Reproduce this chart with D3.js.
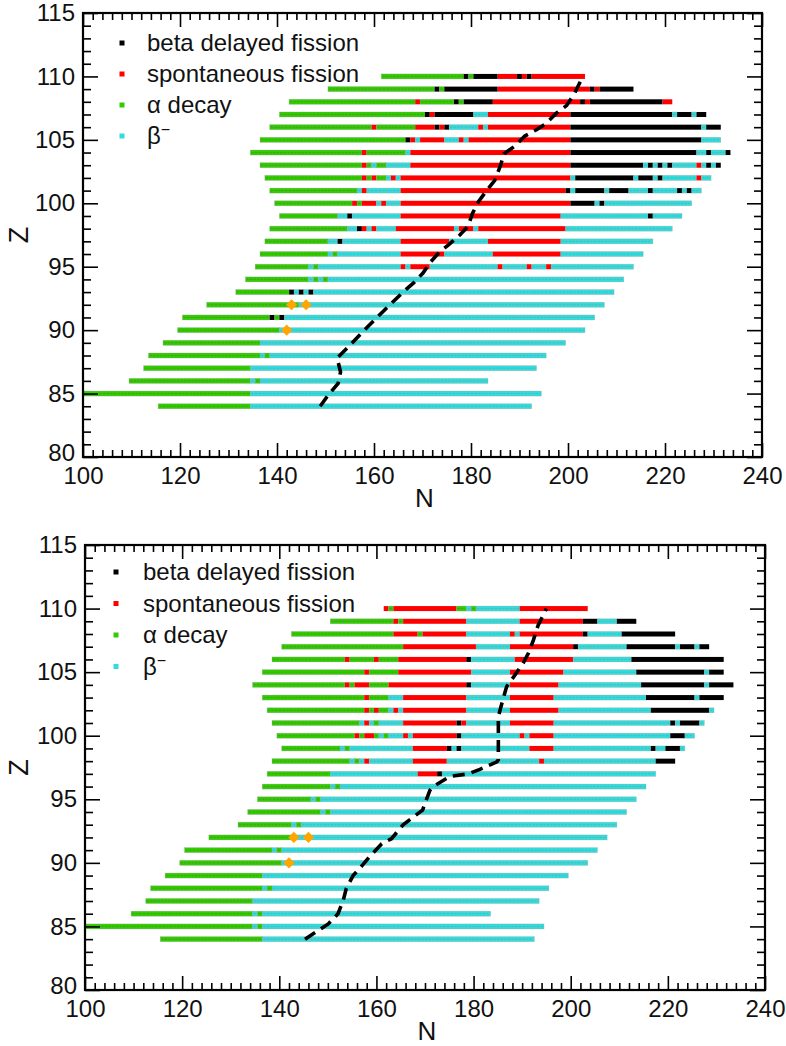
<!DOCTYPE html>
<html>
<head>
<meta charset="utf-8">
<script src="https://cdn.jsdelivr.net/npm/d3@7"></script>
<style>
  html, body { margin: 0; padding: 0; background: #fff; }
  svg { display: block; font-family: "Liberation Sans", Arial, Helvetica, sans-serif; }
</style>
</head>
<body>
<svg id="chart" width="786" height="1046"></svg>
<script>
// ---- decay modes ----------------------------------------------------------
const MODE_KEYS = ["bdf", "sf", "a", "b"];
const MODE_LABELS = ["beta delayed fission", "spontaneous fission", "α decay", "β"];
const MODE_COLORS = { bdf: "#000000", sf: "#ff0000", a: "#33cc00", b: "#33dcdc" };

// ---- axis ticks -----------------------------------------------------------
const N_TICK_LABELS = [100, 120, 140, 160, 180, 200, 220, 240];
const Z_TICK_LABELS = [80, 85, 90, 95, 100, 105, 110, 115];

// ---- upper panel: decay mode runs per element, [N first, N last, mode] -----
const TOP_ROWS = [
  [84, [[116,134,"a"],[135,192,"b"]]],
  [85, [[97,134,"a"],[135,194,"b"]]],
  [86, [[110,134,"a"],[135,135,"b"],[136,136,"a"],[137,183,"b"]]],
  [87, [[113,134,"a"],[135,193,"b"]]],
  [88, [[114,136,"a"],[137,137,"b"],[138,138,"a"],[139,195,"b"]]],
  [89, [[117,136,"a"],[137,199,"b"]]],
  [90, [[120,140,"a"],[141,203,"b"]]],
  [91, [[121,138,"a"],[139,139,"bdf"],[140,140,"a"],[141,141,"bdf"],[142,205,"b"]]],
  [92, [[126,144,"a"],[145,207,"b"]]],
  [93, [[132,142,"a"],[143,143,"bdf"],[144,144,"b"],[145,145,"bdf"],[146,146,"b"],[147,147,"bdf"],[148,209,"b"]]],
  [94, [[134,146,"a"],[147,147,"b"],[148,148,"a"],[149,149,"b"],[150,150,"a"],[151,211,"b"]]],
  [95, [[136,146,"a"],[147,147,"b"],[148,148,"a"],[149,165,"b"],[166,166,"sf"],[167,167,"b"],[168,171,"sf"],[172,185,"b"],[186,186,"sf"],[187,191,"b"],[192,192,"sf"],[193,195,"b"],[196,196,"sf"],[197,213,"b"]]],
  [96, [[137,150,"a"],[151,151,"b"],[152,152,"a"],[153,165,"b"],[166,174,"sf"],[175,184,"b"],[185,198,"sf"],[199,215,"b"]]],
  [97, [[138,150,"a"],[151,152,"b"],[153,153,"bdf"],[154,165,"b"],[166,175,"sf"],[176,183,"b"],[184,198,"sf"],[199,217,"b"]]],
  [98, [[139,154,"a"],[155,156,"b"],[157,157,"bdf"],[158,158,"sf"],[159,159,"b"],[160,160,"sf"],[161,164,"b"],[165,176,"sf"],[177,177,"b"],[178,180,"sf"],[181,181,"b"],[182,199,"sf"],[200,221,"b"]]],
  [99, [[141,152,"a"],[153,154,"b"],[155,155,"bdf"],[156,165,"b"],[166,198,"sf"],[199,216,"b"],[217,217,"bdf"],[218,223,"b"]]],
  [100, [[140,155,"a"],[156,156,"sf"],[157,157,"a"],[158,160,"sf"],[161,161,"b"],[162,162,"sf"],[163,165,"b"],[166,200,"sf"],[201,205,"bdf"],[206,206,"b"],[207,207,"bdf"],[208,225,"b"]]],
  [101, [[139,156,"a"],[157,157,"b"],[158,158,"sf"],[159,165,"b"],[166,199,"sf"],[200,200,"bdf"],[201,201,"b"],[202,207,"bdf"],[208,208,"b"],[209,212,"bdf"],[213,216,"b"],[217,217,"bdf"],[218,222,"b"],[223,223,"bdf"],[224,224,"b"],[225,225,"bdf"],[226,227,"b"]]],
  [102, [[138,157,"a"],[158,158,"sf"],[159,159,"a"],[160,160,"sf"],[161,162,"a"],[163,163,"b"],[164,164,"sf"],[165,165,"b"],[166,200,"sf"],[201,201,"b"],[202,213,"bdf"],[214,214,"b"],[215,217,"bdf"],[218,218,"b"],[219,219,"bdf"],[220,226,"b"],[227,227,"sf"],[228,229,"b"]]],
  [103, [[137,157,"a"],[158,158,"sf"],[159,159,"a"],[160,160,"b"],[161,162,"a"],[163,167,"b"],[168,200,"sf"],[201,215,"bdf"],[216,216,"b"],[217,217,"bdf"],[218,218,"b"],[219,219,"bdf"],[220,220,"b"],[221,221,"bdf"],[222,226,"b"],[227,227,"sf"],[228,228,"b"],[229,229,"bdf"],[230,230,"b"],[231,231,"bdf"]]],
  [104, [[135,157,"a"],[158,158,"sf"],[159,166,"a"],[167,167,"b"],[168,200,"sf"],[201,226,"bdf"],[227,228,"b"],[229,229,"bdf"],[230,232,"b"],[233,233,"bdf"]]],
  [105, [[137,166,"a"],[167,167,"bdf"],[168,168,"sf"],[169,169,"b"],[170,174,"sf"],[175,177,"b"],[178,178,"sf"],[179,179,"b"],[180,200,"sf"],[201,227,"bdf"],[228,231,"b"]]],
  [106, [[139,159,"a"],[160,160,"sf"],[161,168,"a"],[169,172,"sf"],[173,173,"bdf"],[174,174,"sf"],[175,175,"bdf"],[176,181,"b"],[182,182,"sf"],[183,183,"b"],[184,200,"sf"],[201,227,"bdf"],[228,228,"b"],[229,231,"bdf"]]],
  [107, [[141,170,"a"],[171,171,"bdf"],[172,172,"sf"],[173,180,"bdf"],[181,183,"b"],[184,200,"sf"],[201,221,"bdf"],[222,222,"b"],[223,225,"bdf"],[226,226,"b"],[227,228,"bdf"]]],
  [108, [[143,168,"a"],[169,169,"sf"],[170,176,"a"],[177,177,"bdf"],[178,178,"a"],[179,184,"bdf"],[185,202,"sf"],[203,203,"bdf"],[204,204,"sf"],[205,219,"bdf"],[220,221,"sf"]]],
  [109, [[151,172,"a"],[173,173,"bdf"],[174,174,"a"],[175,185,"bdf"],[186,204,"sf"],[205,205,"bdf"],[206,206,"sf"],[207,213,"bdf"]]],
  [110, [[162,178,"a"],[179,179,"bdf"],[180,180,"a"],[181,185,"bdf"],[186,189,"sf"],[190,190,"bdf"],[191,191,"sf"],[192,192,"bdf"],[193,203,"sf"]]]
];

// ---- lower panel ----------------------------------------------------------
const BOTTOM_ROWS = [
  [84, [[116,136,"a"],[137,192,"b"]]],
  [85, [[97,134,"a"],[135,135,"b"],[136,136,"a"],[137,194,"b"]]],
  [86, [[110,134,"a"],[135,135,"b"],[136,136,"a"],[137,183,"b"]]],
  [87, [[113,134,"a"],[135,193,"b"]]],
  [88, [[114,136,"a"],[137,137,"b"],[138,138,"a"],[139,195,"b"]]],
  [89, [[117,136,"a"],[137,199,"b"]]],
  [90, [[120,140,"a"],[141,203,"b"]]],
  [91, [[121,138,"a"],[139,139,"b"],[140,140,"a"],[141,205,"b"]]],
  [92, [[126,143,"a"],[144,207,"b"]]],
  [93, [[132,142,"a"],[143,143,"b"],[144,144,"a"],[145,209,"b"]]],
  [94, [[134,148,"a"],[149,149,"b"],[150,150,"a"],[151,211,"b"]]],
  [95, [[136,146,"a"],[147,147,"b"],[148,148,"a"],[149,213,"b"]]],
  [96, [[137,150,"a"],[151,151,"b"],[152,152,"a"],[153,215,"b"]]],
  [97, [[138,150,"a"],[151,168,"b"],[169,172,"sf"],[173,173,"bdf"],[174,217,"b"]]],
  [98, [[139,154,"a"],[155,155,"b"],[156,156,"a"],[157,157,"b"],[158,158,"sf"],[159,167,"b"],[168,174,"sf"],[175,193,"b"],[194,194,"sf"],[195,217,"b"],[218,221,"bdf"]]],
  [99, [[141,152,"a"],[153,153,"b"],[154,154,"a"],[155,167,"b"],[168,174,"sf"],[175,175,"bdf"],[176,176,"b"],[177,177,"bdf"],[178,191,"b"],[192,196,"sf"],[197,216,"b"],[217,217,"bdf"],[218,219,"b"],[220,222,"bdf"],[223,223,"b"]]],
  [100, [[140,155,"a"],[156,156,"sf"],[157,157,"a"],[158,159,"sf"],[160,160,"a"],[161,161,"b"],[162,162,"a"],[163,165,"b"],[166,166,"sf"],[167,167,"b"],[168,176,"sf"],[177,177,"bdf"],[178,189,"b"],[190,190,"sf"],[191,191,"b"],[192,196,"sf"],[197,220,"b"],[221,223,"bdf"],[224,225,"b"]]],
  [101, [[139,156,"a"],[157,157,"b"],[158,158,"sf"],[159,159,"b"],[160,160,"a"],[161,165,"b"],[166,176,"sf"],[177,177,"bdf"],[178,178,"sf"],[179,187,"b"],[188,196,"sf"],[197,220,"b"],[221,221,"bdf"],[222,222,"b"],[223,226,"bdf"],[227,227,"b"]]],
  [102, [[138,157,"a"],[158,158,"sf"],[159,159,"a"],[160,160,"sf"],[161,162,"a"],[163,163,"b"],[164,164,"sf"],[165,165,"b"],[166,178,"sf"],[179,187,"b"],[188,197,"sf"],[198,216,"b"],[217,228,"bdf"],[229,229,"b"]]],
  [103, [[137,157,"a"],[158,158,"sf"],[159,162,"a"],[163,165,"b"],[166,178,"sf"],[179,187,"b"],[188,196,"sf"],[197,215,"b"],[216,225,"bdf"],[226,226,"b"],[227,231,"bdf"]]],
  [104, [[135,153,"a"],[154,154,"sf"],[155,155,"a"],[156,158,"sf"],[159,162,"a"],[163,178,"sf"],[179,179,"bdf"],[180,187,"b"],[188,197,"sf"],[198,214,"b"],[215,227,"bdf"],[228,228,"b"],[229,233,"bdf"]]],
  [105, [[137,157,"a"],[158,158,"sf"],[159,164,"a"],[165,179,"sf"],[180,187,"b"],[188,198,"sf"],[199,213,"b"],[214,227,"bdf"],[228,228,"b"],[229,231,"bdf"]]],
  [106, [[139,153,"a"],[154,154,"sf"],[155,159,"a"],[160,160,"sf"],[161,164,"a"],[165,178,"sf"],[179,179,"bdf"],[180,188,"b"],[189,200,"sf"],[201,212,"b"],[213,231,"bdf"]]],
  [107, [[141,165,"a"],[166,180,"sf"],[181,187,"b"],[188,200,"sf"],[201,201,"bdf"],[202,211,"b"],[212,221,"bdf"],[222,222,"b"],[223,225,"bdf"],[226,226,"b"],[227,228,"bdf"]]],
  [108, [[143,163,"a"],[164,168,"sf"],[169,169,"a"],[170,178,"sf"],[179,187,"b"],[188,188,"sf"],[189,189,"b"],[190,202,"sf"],[203,203,"bdf"],[204,210,"b"],[211,221,"bdf"]]],
  [109, [[151,163,"a"],[164,164,"sf"],[165,165,"a"],[166,178,"sf"],[179,189,"b"],[190,202,"sf"],[203,205,"bdf"],[206,209,"b"],[210,213,"bdf"]]],
  [110, [[162,162,"sf"],[163,163,"a"],[164,176,"sf"],[177,178,"a"],[179,179,"b"],[180,180,"a"],[181,189,"b"],[190,203,"sf"]]]
];

// ---- dashed line (N, Z) and known nuclei markers ---------------------------
const TOP_LINE = [[148.9,84],[150.6,84.9],[152.6,85.8],[153.1,86.7],[152.6,87.5],[152.4,87.8],[155,88.8],[158.8,90.3],[162.6,91.75],[166,93],[168.1,93.7],[170.1,94.5],[171.5,95.3],[173.6,96.2],[175.3,96.7],[177.7,97.5],[179.4,98.2],[180.3,99.2],[181.5,100.1],[183.2,101],[184.9,101.8],[186.1,103],[186.8,103.9],[189,104.5],[191.1,105.3],[193.5,105.8],[195.5,106.3],[197.6,107.1],[199.7,107.7],[201.4,108.7],[202.8,109.8]];
const BOTTOM_LINE = [[145.3,84],[147.7,84.6],[150.1,85.2],[152.1,86],[153.2,87.1],[153.8,88],[155.2,89],[157.3,89.9],[158.6,90.5],[161.1,91.5],[163.1,91.9],[165.5,93],[169.5,94.15],[171,95.7],[171.7,96],[175.1,96.8],[178.9,97],[181.3,97.35],[184.8,97.95],[185.1,98.1],[185.1,100.4],[185.1,101.5],[186,102.8],[186.8,103.85],[188.2,104.6],[190.2,105.7],[191.3,106.5],[192.3,107.5],[193.3,108.7],[195,110]];
const TOP_DIAMONDS = [[143,92],[146,92],[142,90]];
const BOTTOM_DIAMONDS = [[143,92],[146,92],[142,90]];

// ---- panel boxes -----------------------------------------------------------
const PANELS = [
  { rows: TOP_ROWS, line: TOP_LINE, diamonds: TOP_DIAMONDS, left: 83, right: 762, top: 13, bottom: 457,
    legend: { sx: 122, tx: 147, y0: 43, dy: 31 } },
  { rows: BOTTOM_ROWS, line: BOTTOM_LINE, diamonds: BOTTOM_DIAMONDS, left: 85, right: 765, top: 545, bottom: 990,
    legend: { sx: 116, tx: 143, y0: 572, dy: 31.5 } }
];

const svg = d3.select("#chart");

PANELS.forEach((p, i) => {
  const x = d3.scaleLinear().domain([100, 240]).range([p.left, p.right]);
  const y = d3.scaleLinear().domain([80, 115]).range([p.bottom, p.top]);
  const g = svg.append("g");

  const clipId = "plot-clip-" + i;
  svg.append("clipPath").attr("id", clipId)
    .append("rect").attr("x", p.left).attr("y", p.top)
    .attr("width", p.right - p.left).attr("height", p.bottom - p.top);

  // decay-mode bars, one rect per run of equal mode
  const runs = [];
  p.rows.forEach(([z, segs]) => segs.forEach(([n0, n1, m]) => runs.push({ z, n0, n1, m })));
  const barH = 5;
  const bars = g.append("g").attr("clip-path", `url(#${clipId})`);
  bars.selectAll("rect.run").data(runs).join("rect")
    .attr("class", "run")
    .attr("x", d => x(d.n0 - 0.5))
    .attr("y", d => y(d.z) - barH / 2)
    .attr("width", d => x(d.n1 + 0.5) - x(d.n0 - 0.5))
    .attr("height", barH)
    .attr("fill", d => MODE_COLORS[d.m])
    .attr("stroke", d => (d.m === "a" || d.m === "b") ? "rgba(140,150,150,0.45)" : "none")
    .attr("stroke-width", 0.6);
  // dotted texture along the green and cyan runs
  bars.selectAll("line.tex").data(runs.filter(d => d.m === "a" || d.m === "b")).join("line")
    .attr("class", "tex")
    .attr("x1", d => x(d.n0 - 0.5) + 1).attr("x2", d => x(d.n1 + 0.5) - 1)
    .attr("y1", d => y(d.z)).attr("y2", d => y(d.z))
    .attr("stroke", d => d.m === "a" ? "rgba(70,130,40,0.55)" : "rgba(110,150,150,0.55)")
    .attr("stroke-width", 1)
    .attr("stroke-dasharray", "2.2,1.4");

  // dashed boundary line
  g.append("path")
    .attr("d", d3.line().x(d => x(d[0])).y(d => y(d[1]))(p.line))
    .attr("fill", "none").attr("stroke", "#000").attr("stroke-width", 3.6)
    .attr("stroke-dasharray", "12,7").attr("stroke-linecap", "butt");

  // orange diamonds
  g.selectAll("path.dia").data(p.diamonds).join("path")
    .attr("class", "dia")
    .attr("transform", d => `translate(${x(d[0])},${y(d[1])}) rotate(45)`)
    .attr("d", d3.symbol(d3.symbolSquare, 62)())
    .attr("fill", "#ffa500");

  // axes: ticks inside on all four sides
  const majorN = N_TICK_LABELS, minorN = d3.range(100, 241, 2).filter(v => v % 20 !== 0);
  const majorZ = Z_TICK_LABELS, minorZ = d3.range(80, 116, 1).filter(v => v % 5 !== 0);
  const axisStyle = sel => {
    sel.select(".domain").remove();
    sel.selectAll("line").attr("stroke", "#000").attr("stroke-width", 1.6);
    sel.selectAll("text").attr("font-size", 24).attr("fill", "#111")
      .attr("font-family", "'Liberation Sans', Arial, sans-serif");
  };
  const bottomAxis = g.append("g").attr("transform", `translate(0,${p.bottom})`);
  bottomAxis.append("g").call(d3.axisBottom(x).tickValues(majorN).tickSize(-14).tickPadding(10).tickFormat(d3.format("d"))).call(axisStyle);
  bottomAxis.append("g").call(d3.axisBottom(x).tickValues(minorN).tickSize(-7).tickFormat("")).call(axisStyle);
  const topAxis = g.append("g").attr("transform", `translate(0,${p.top})`);
  topAxis.append("g").call(d3.axisTop(x).tickValues(majorN).tickSize(-14).tickFormat("")).call(axisStyle);
  topAxis.append("g").call(d3.axisTop(x).tickValues(minorN).tickSize(-7).tickFormat("")).call(axisStyle);
  const leftAxis = g.append("g").attr("transform", `translate(${p.left},0)`);
  leftAxis.append("g").call(d3.axisLeft(y).tickValues(majorZ).tickSize(-15).tickPadding(8).tickFormat(d3.format("d"))).call(axisStyle);
  leftAxis.append("g").call(d3.axisLeft(y).tickValues(minorZ).tickSize(-8).tickFormat("")).call(axisStyle);
  const rightAxis = g.append("g").attr("transform", `translate(${p.right},0)`);
  rightAxis.append("g").call(d3.axisRight(y).tickValues(majorZ).tickSize(-15).tickFormat("")).call(axisStyle);
  rightAxis.append("g").call(d3.axisRight(y).tickValues(minorZ).tickSize(-8).tickFormat("")).call(axisStyle);
  // lift the lowest Z label a little so it clears the N labels below
  leftAxis.selectAll(".tick text").filter(d => d === 80).attr("dy", "0.15em");

  // frame
  g.append("rect").attr("x", p.left).attr("y", p.top)
    .attr("width", p.right - p.left).attr("height", p.bottom - p.top)
    .attr("fill", "none").attr("stroke", "#000").attr("stroke-width", 2.2);

  // axis titles
  g.append("text").attr("x", (p.left + p.right) / 2 + 2).attr("y", p.bottom + 50)
    .attr("text-anchor", "middle").attr("font-size", 26).attr("fill", "#111").text("N");
  g.append("text").attr("transform", `translate(28,${(p.top + p.bottom) / 2}) rotate(-90)`)
    .attr("text-anchor", "middle").attr("font-size", 27).attr("fill", "#111").text("Z");

  // legend
  const lg = g.append("g");
  MODE_KEYS.forEach((k, j) => {
    const cy = p.legend.y0 + j * p.legend.dy;
    lg.append("rect").attr("x", p.legend.sx - 2.5).attr("y", cy - 2.5)
      .attr("width", 5).attr("height", 5).attr("fill", MODE_COLORS[k]);
    const t = lg.append("text").attr("x", p.legend.tx).attr("y", cy + 8)
      .attr("font-size", 24).attr("fill", "#111");
    t.append("tspan").text(MODE_LABELS[j]);
    if (k === "b") {
      t.append("tspan").attr("dy", -9).attr("font-size", 16).text("−");
    }
  });
});
</script>
</body>
</html>
